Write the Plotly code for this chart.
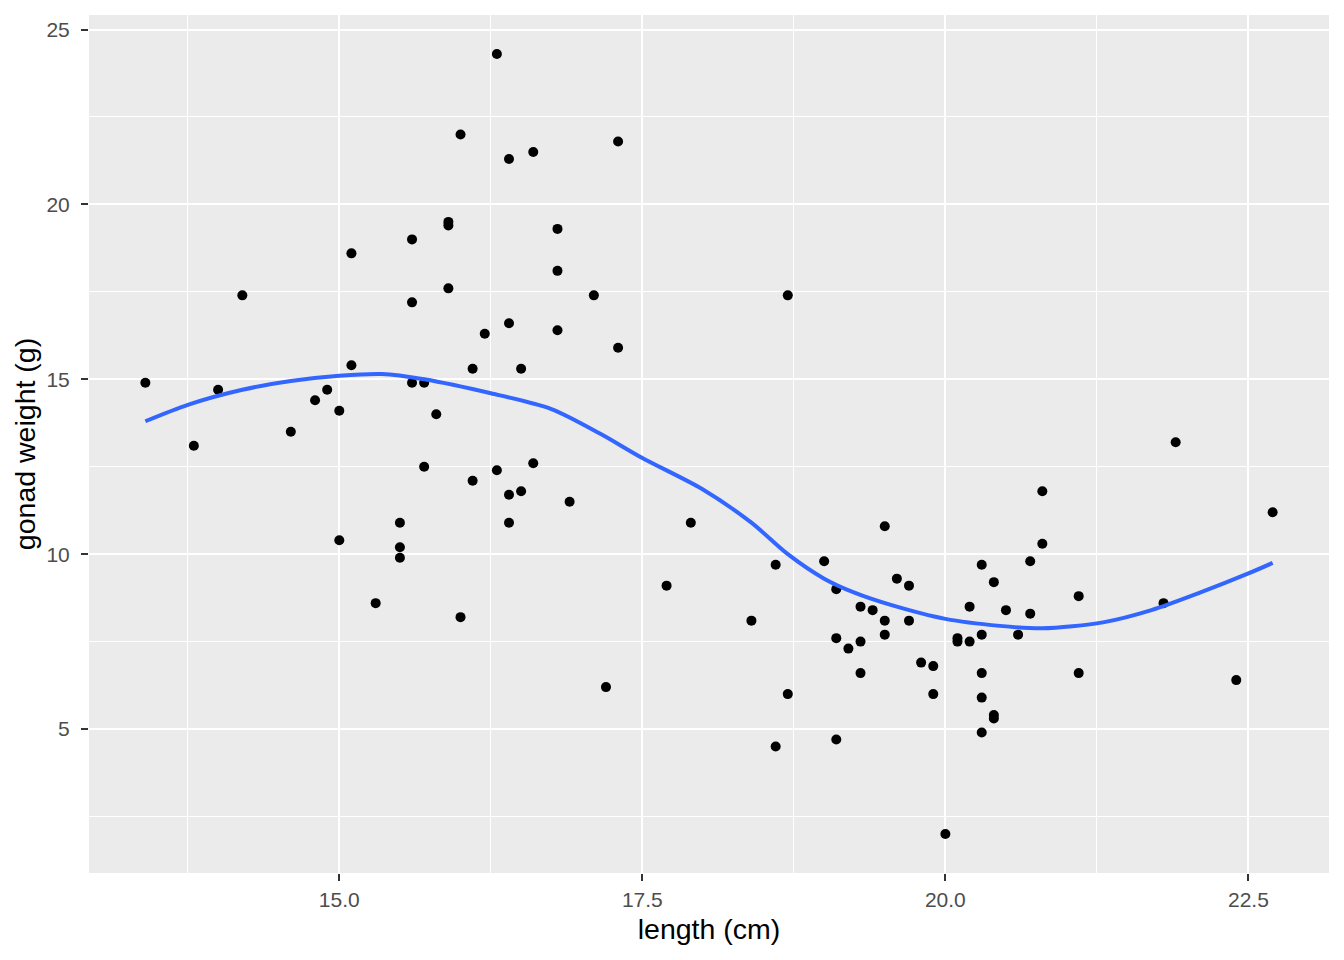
import plotly.graph_objects as go

# fish length (cm) and gonad weight (g)
length_cm = [
    13.4, 13.8, 14.0, 14.2, 14.6, 14.8, 14.9, 15.0, 15.0, 15.1,
    15.1, 15.3, 15.5, 15.5, 15.5, 15.6, 15.6, 15.6, 15.7, 15.7,
    15.8, 15.9, 15.9, 15.9, 16.0, 16.0, 16.1, 16.1, 16.2, 16.3,
    16.3, 16.4, 16.4, 16.4, 16.4, 16.5, 16.5, 16.6, 16.6, 16.8,
    16.8, 16.8, 16.9, 17.1, 17.2, 17.3, 17.3, 17.7, 17.9, 18.4,
    18.6, 18.6, 18.7, 18.7, 19.0, 19.1, 19.1, 19.1, 19.2, 19.3,
    19.3, 19.3, 19.4, 19.5, 19.5, 19.5, 19.6, 19.7, 19.7, 19.8,
    19.9, 19.9, 20.0, 20.1, 20.1, 20.2, 20.2, 20.3, 20.3, 20.3,
    20.3, 20.3, 20.4, 20.4, 20.4, 20.5, 20.6, 20.7, 20.7, 20.8,
    20.8, 21.1, 21.1, 21.8, 21.9, 22.4, 22.7,
]
gonad_g = [
    14.9, 13.1, 14.7, 17.4, 13.5, 14.4, 14.7, 14.1, 10.4, 18.6,
    15.4, 8.6, 10.9, 10.2, 9.9, 19.0, 17.2, 14.9, 14.9, 12.5,
    14.0, 19.5, 19.4, 17.6, 22.0, 8.2, 15.3, 12.1, 16.3, 24.3,
    12.4, 21.3, 16.6, 11.7, 10.9, 15.3, 11.8, 21.5, 12.6, 19.3,
    18.1, 16.4, 11.5, 17.4, 6.2, 21.8, 15.9, 9.1, 10.9, 8.1,
    9.7, 4.5, 17.4, 6.0, 9.8, 9.0, 7.6, 4.7, 7.3, 8.5,
    7.5, 6.6, 8.4, 10.8, 8.1, 7.7, 9.3, 9.1, 8.1, 6.9,
    6.8, 6.0, 2.0, 7.6, 7.5, 8.5, 7.5, 9.7, 7.7, 6.6,
    5.9, 4.9, 9.2, 5.4, 5.3, 8.4, 7.7, 9.8, 8.3, 11.8,
    10.3, 8.8, 6.6, 8.6, 13.2, 6.4, 11.2,
]

# smoothed trend line
smooth_x = [
    13.4, 13.75, 14.2, 14.6, 15.0, 15.35, 15.7, 16.25, 16.75, 17.15,
    17.5, 18.0, 18.4, 18.7, 19.0, 19.25, 19.55, 20.0, 20.45, 20.8,
    21.3, 21.7, 22.1, 22.5, 22.7,
]
smooth_y = [
    13.8, 14.27, 14.7, 14.95, 15.1, 15.15, 15.0, 14.6, 14.15, 13.45,
    12.75, 11.85, 10.9, 10.0, 9.3, 8.9, 8.55, 8.15, 7.95, 7.88,
    8.05, 8.4, 8.9, 9.45, 9.75,
]

x_ticks = [15.0, 17.5, 20.0, 22.5]
y_ticks = [5, 10, 15, 20, 25]

FONT = "Liberation Sans, Arial, sans-serif"

x_pad = (max(length_cm) - min(length_cm)) * 0.05
y_pad = (max(gonad_g) - min(gonad_g)) * 0.05

fig = go.Figure()

fig.add_trace(
    go.Scatter(
        x=length_cm,
        y=gonad_g,
        mode="markers",
        marker={"color": "black", "size": 10},
        showlegend=False,
    )
)
fig.add_trace(
    go.Scatter(
        x=smooth_x,
        y=smooth_y,
        mode="lines",
        line={"color": "#3366FF", "width": 4, "shape": "spline", "smoothing": 0.8},
        showlegend=False,
    )
)

fig.update_layout(
    width=1344,
    height=960,
    margin={"l": 89, "r": 15, "t": 15, "b": 87},
    paper_bgcolor="white",
    plot_bgcolor="#EBEBEB",
    font={"family": FONT, "color": "black"},
)
fig.update_xaxes(
    range=[min(length_cm) - x_pad, max(length_cm) + x_pad],
    tickvals=x_ticks,
    ticktext=[f"{v:.1f}" for v in x_ticks],
    ticks="outside",
    ticklen=7,
    tickwidth=1.5,
    tickcolor="#333333",
    tickfont={"size": 21, "color": "#4D4D4D"},
    ticklabelstandoff=1,
    showgrid=True,
    gridcolor="white",
    gridwidth=1.6,
    minor={"tickvals": [13.75, 16.25, 18.75, 21.25], "showgrid": True,
           "gridcolor": "white", "gridwidth": 0.8, "ticks": ""},
    zeroline=False,
    showline=False,
    automargin=False,
    title={"text": "length (cm)", "font": {"size": 28.5}, "standoff": 8},
)
fig.update_yaxes(
    range=[min(gonad_g) - y_pad, max(gonad_g) + y_pad],
    tickvals=y_ticks,
    ticks="outside",
    ticklen=7,
    tickwidth=1.5,
    tickcolor="#333333",
    tickfont={"size": 21, "color": "#4D4D4D"},
    ticklabelstandoff=7,
    showgrid=True,
    gridcolor="white",
    gridwidth=1.6,
    minor={"tickvals": [2.5, 7.5, 12.5, 17.5, 22.5], "showgrid": True,
           "gridcolor": "white", "gridwidth": 0.8, "ticks": ""},
    zeroline=False,
    showline=False,
    automargin=False,
    title={"text": "gonad weight (g)", "font": {"size": 28.5}, "standoff": 2},
)

fig.write_html(
    "out.html",
    config={"displayModeBar": False},
    post_script="document.body.style.margin='0';",
)
